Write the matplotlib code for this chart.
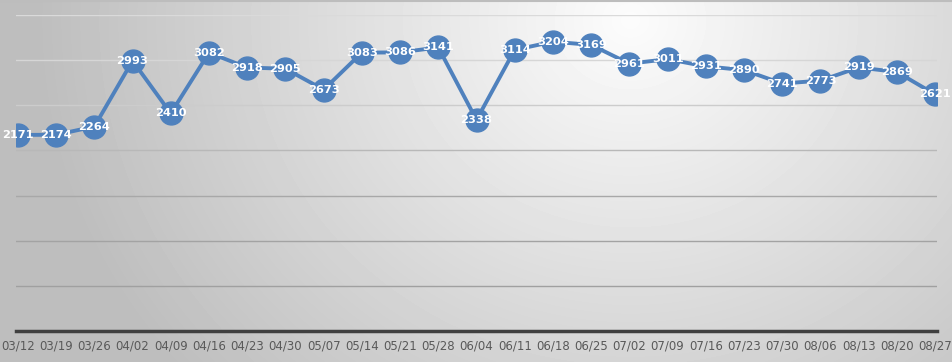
import numpy as np
import matplotlib
matplotlib.use("Agg")
import matplotlib.pyplot as plt

# datos semanales
dates = ["03/12", "03/19", "03/26", "04/02", "04/09", "04/16", "04/23", "04/30",
         "05/07", "05/14", "05/21", "05/28", "06/04", "06/11", "06/18", "06/25",
         "07/02", "07/09", "07/16", "07/23", "07/30", "08/06", "08/13", "08/20", "08/27"]
values = [2171, 2174, 2264, 2993, 2410, 3082, 2918, 2905,
          2673, 3083, 3086, 3141, 2338, 3114, 3204, 3169,
          2961, 3011, 2931, 2890, 2741, 2773, 2919, 2869, 2621]
grid_levels = [500, 1000, 1500, 2000, 2500, 3000, 3500]
grid_colors = ["#a0a0a0", "#a3a3a3", "#a8a8a8", "#b8b8b8", "#cccccc", "#d6d6d6", "#dadada"]

W, H = 953, 362
fig = plt.figure(figsize=(W / 100, H / 100), dpi=100)

# fondo con degradado radial
bg = fig.add_axes([0, 0, 1, 1])
yy, xx = np.mgrid[0:H, 0:W]
r = np.hypot(xx - 630, (yy - 20) * 1.1)
v = np.clip(252 - 0.105 * r, 190, 252) / 255
bg.imshow(v, cmap="gray", vmin=0, vmax=1, aspect="auto", extent=[0, 1, 0, 1])
bg.set_xlim(0, 1)
bg.set_ylim(0, 1)
bg.axis("off")
bg.plot([0, 1], [0.997, 0.997], color="#bdbdbd", lw=1.5)

ax = fig.add_axes([16 / W, (H - 331) / H, 921 / W, 316 / H])
ax.patch.set_alpha(0)
x = np.arange(len(dates))
ax.set_xlim(-0.05, len(dates) - 0.95)
ax.set_ylim(0, 3500)

for g, c in zip(grid_levels, grid_colors):
    ax.axhline(g, color=c, lw=1, zorder=1)

ax.plot(x, values, color="#4f81bd", lw=2.8, marker="o", markersize=16.5,
        markerfacecolor="#4f81bd", markeredgecolor="#4f81bd", zorder=3)
for xi, val in zip(x, values):
    ax.text(xi, val, str(val), color="white", fontsize=8.2, fontweight="bold",
            ha="center", va="center", zorder=4)

for s in ["top", "right", "left"]:
    ax.spines[s].set_visible(False)
ax.spines["bottom"].set_color("#404040")
ax.spines["bottom"].set_linewidth(2.5)
ax.set_yticks([])
ax.set_xticks(x)
ax.set_xticklabels(dates, color="#595959", fontsize=8.5)
ax.tick_params(axis="x", length=0, pad=6)

fig.savefig("out.png", dpi=100)
